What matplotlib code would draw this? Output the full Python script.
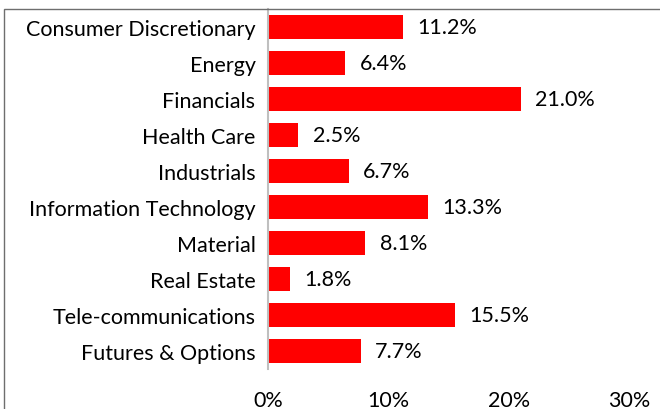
import matplotlib.pyplot as plt
from matplotlib.patches import Rectangle

sectors = ["Consumer Discretionary", "Energy", "Financials", "Health Care",
           "Industrials", "Information Technology", "Material", "Real Estate",
           "Tele-communications", "Futures & Options"]
weights = [11.2, 6.4, 21.0, 2.5, 6.7, 13.3, 8.1, 1.8, 15.5, 7.7]
ticks = [0, 10, 20, 30]

plt.rcParams["font.family"] = ["Lato", "DejaVu Sans"]
fs = 15.5

fig = plt.figure(figsize=(6.6, 4.1), dpi=100)
W, H = 660, 410
ax = fig.add_axes([268 / W, 1 - 370 / H, (629 - 268) / W, 360 / H])

pos = list(range(len(sectors)))
ax.barh(pos, weights, height=0.66, color="#FF0000")
for p, v in zip(pos, weights):
    ax.text(v + 1.2, p, f"{v:.1f}%", va="center", ha="left", fontsize=fs)

ax.set_ylim(len(sectors) - 0.5, -0.5)
ax.set_xlim(0, 30)
ax.set_yticks(pos)
ax.set_yticklabels(sectors, fontsize=fs)
ax.set_xticks(ticks)
ax.set_xticklabels([f"{t}%" for t in ticks], fontsize=fs)
ax.tick_params(axis="both", length=0)
ax.tick_params(axis="y", pad=9)
ax.tick_params(axis="x", pad=15)
for s in ["top", "right", "bottom"]:
    ax.spines[s].set_visible(False)
ax.spines["left"].set_color("#BFBFBF")
ax.spines["left"].set_linewidth(1.5)

# outer chart border (runs off the right and bottom edges)
fig.patches.append(Rectangle((4 / W, -0.1), 1.2, 1 - 10 / H + 0.1,
                             transform=fig.transFigure, fill=False,
                             edgecolor="#6E6E6E", linewidth=1))

fig.savefig("out.png", dpi=100)
